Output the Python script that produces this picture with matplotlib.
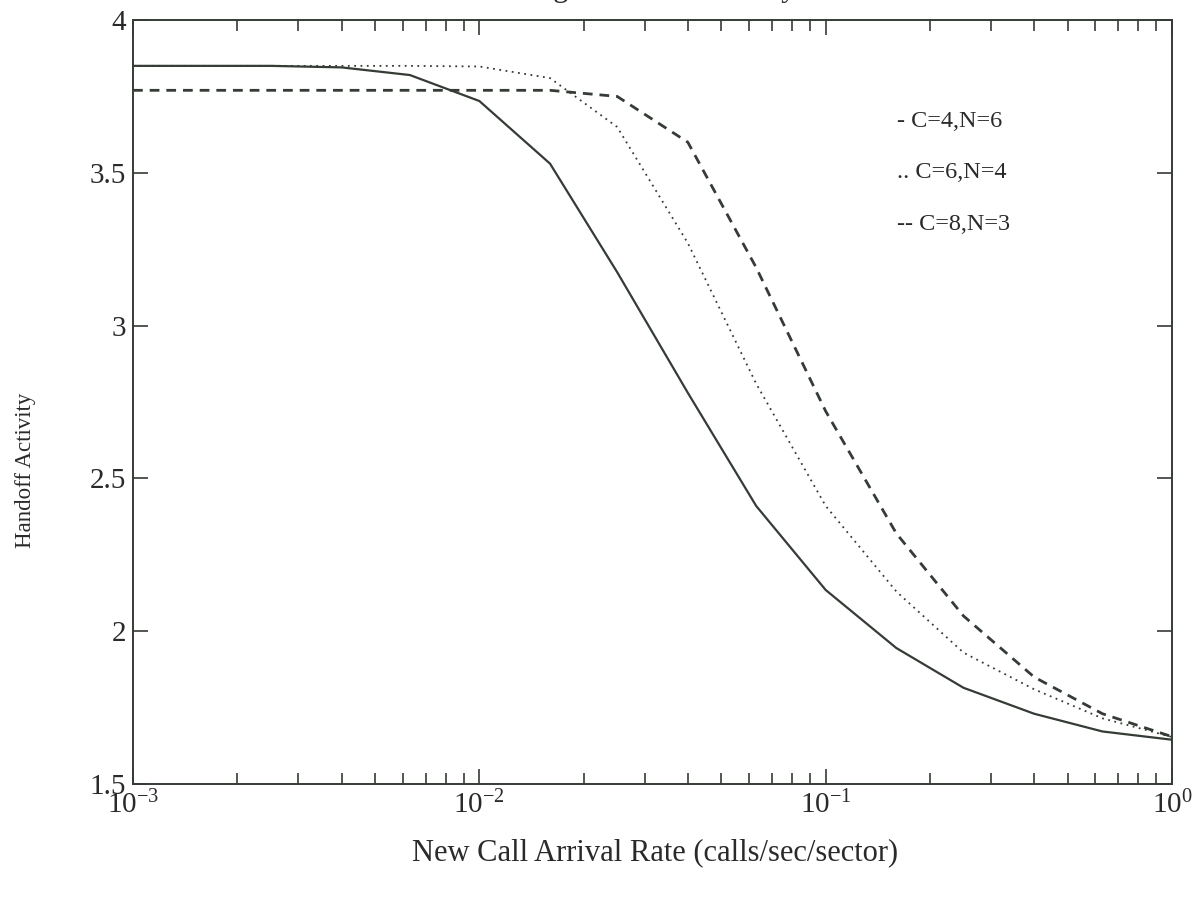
import numpy as np
import matplotlib
matplotlib.use("Agg")
import matplotlib.pyplot as plt

# new call arrival rate (calls/sec/sector), 5 points per decade
rate = [0.001, 0.0016, 0.0025, 0.004, 0.0063, 0.01, 0.016, 0.025,
        0.04, 0.063, 0.1, 0.16, 0.25, 0.4, 0.63, 1.0]

c4_n6 = [3.85, 3.85, 3.85, 3.845, 3.82, 3.735, 3.53, 3.175,
         2.78, 2.41, 2.135, 1.945, 1.815, 1.73, 1.672, 1.645]
c6_n4 = [3.85, 3.85, 3.85, 3.85, 3.85, 3.848, 3.81, 3.65,
         3.27, 2.81, 2.41, 2.13, 1.93, 1.81, 1.715, 1.654]
c8_n3 = [3.77, 3.77, 3.77, 3.77, 3.77, 3.77, 3.77, 3.75,
         3.60, 3.19, 2.72, 2.32, 2.05, 1.85, 1.73, 1.655]

labels = ["- C=4,N=6", ".. C=6,N=4", "-- C=8,N=3"]
yticks = [1.5, 2, 2.5, 3, 3.5, 4]

plt.rcParams['font.family'] = ['Liberation Serif', 'DejaVu Serif']
plt.rcParams['mathtext.fontset'] = 'custom'
plt.rcParams['mathtext.rm'] = 'Liberation Serif'

ink = "#353b35"
txt = "#2a2a2a"

fig = plt.figure(figsize=(11.93, 8.98), dpi=100)
ax = fig.add_axes([0.1115, 0.1269, 0.8709, 0.8508])

ax.plot(rate, c4_n6, color=ink, lw=1.6, linestyle='-')
ax.plot(rate, c6_n4, color=ink, lw=1.3, linestyle=(0, (1, 2.5)))
ax.plot(rate, c8_n3, color=ink, lw=2.0, linestyle=(0, (3.5, 2.5)))

ax.set_xscale('log')
ax.set_xlim(1e-3, 1)
ax.set_ylim(1.5, 4)
ax.set_xticks([1e-3, 1e-2, 1e-1, 1])
ax.set_xticklabels([r'$\mathregular{10^{-3}}$', r'$\mathregular{10^{-2}}$',
                    r'$\mathregular{10^{-1}}$', r'$\mathregular{10^{0}}$'])
ax.set_yticks(yticks)
ax.set_yticklabels(['1.5', '2', '2.5', '3', '3.5', '4'])

ax.tick_params(which='both', direction='in', top=True, right=True,
               labelsize=21, colors=ink, labelcolor=txt)
ax.tick_params(which='major', length=11, width=1.2, pad=5)
ax.tick_params(which='minor', length=8, width=1.2)
for sp in ax.spines.values():
    sp.set_color(ink)
    sp.set_linewidth(1.4)

ax.set_xlabel("New Call Arrival Rate (calls/sec/sector)", fontsize=22,
              color=txt)
ax.xaxis.set_label_coords(0.502, -0.071)
ax.set_ylabel("Handoff Activity", fontsize=16.5, color=txt)
ax.yaxis.set_label_coords(-0.093, 0.411)

for i, lab in enumerate(labels):
    ax.text(0.735, 0.867 - i * 0.067, lab, transform=ax.transAxes,
            fontsize=17.5, color=txt, va='center', ha='left')

# title sits mostly above the top edge of the page, as in the scan
fig.text(0.535, 1.004, "Average Handoff Activity", fontsize=22,
         ha='center', va='baseline', color=txt)

fig.savefig("out.png", dpi=100)
